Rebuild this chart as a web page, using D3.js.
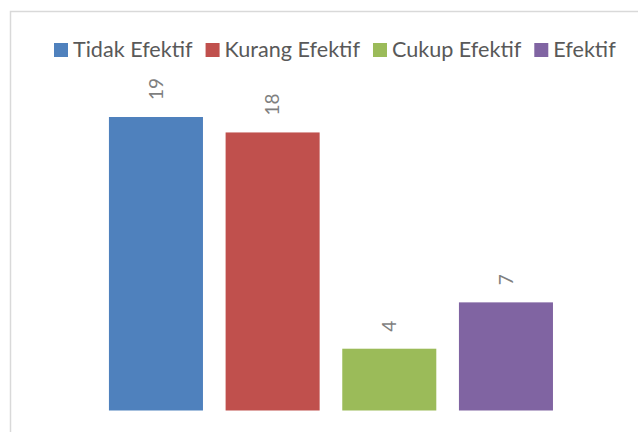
<!DOCTYPE html>
<html>
<head>
<meta charset="utf-8">
<script src="https://cdn.jsdelivr.net/npm/d3@7"></script>
<style>
  html, body { margin: 0; padding: 0; background: #fff; }
  svg { display: block; }
</style>
</head>
<body>
<div id="stage"></div>
<script>
const categories = ['Tidak Efektif', 'Kurang Efektif', 'Cukup Efektif', 'Efektif'];
const values = [19, 18, 4, 7];
const colors = ['#4f81bd', '#c0504d', '#9bbb59', '#8064a2'];

const width = 638;
const height = 432;
const font = 'Lato, "Noto Sans", sans-serif';

const svg = d3.select('#stage')
    .append('svg')
    .attr('width', width)
    .attr('height', height);

// chart frame (only left and top edges fall inside the picture)
svg.append('rect')
    .attr('x', 10.5)
    .attr('y', 11.5)
    .attr('width', 700)
    .attr('height', 500)
    .attr('fill', 'none')
    .attr('stroke', '#d9d9d9')
    .attr('stroke-width', 1.5);

const x = d3.scaleBand()
    .domain(categories)
    .range([86.3, 575.6])
    .paddingInner(0.194)
    .paddingOuter(0.194);

const y = d3.scaleLinear()
    .domain([0, 19])
    .range([410.5, 117]);

const data = categories.map((c, i) => ({cat: c, value: values[i], color: colors[i]}));

svg.append('g')
    .selectAll('rect')
    .data(data)
    .join('rect')
    .attr('x', d => x(d.cat))
    .attr('y', d => y(d.value))
    .attr('width', x.bandwidth())
    .attr('height', d => y(0) - y(d.value))
    .attr('fill', d => d.color);

// rotated value labels
svg.append('g')
    .selectAll('text')
    .data(data)
    .join('text')
    .attr('transform', d => `translate(${x(d.cat) + x.bandwidth() / 2},${y(d.value) - 17}) rotate(-90)`)
    .attr('dy', '0.36em')
    .attr('text-anchor', 'start')
    .attr('font-family', font)
    .attr('font-size', 19)
    .attr('fill', '#7f7f7f')
    .text(d => d.value);

// legend: size the font so the row spans the same width as the original
const legend = svg.append('g');
const gap = 13;
const items = data.map(d => {
    const g = legend.append('g');
    g.append('rect')
        .attr('x', 0)
        .attr('y', 43)
        .attr('width', 14)
        .attr('height', 14)
        .attr('fill', d.color);
    const t = g.append('text')
        .attr('x', 19)
        .attr('y', 57)
        .attr('font-family', font)
        .attr('font-size', 20)
        .attr('fill', '#595959')
        .text(d.cat);
    return {g, t};
});
const textTotal = d3.sum(items, it => it.t.node().getComputedTextLength());
const fs = 20 * 447 / textTotal;
let lx = 54;
items.forEach(it => {
    it.t.attr('font-size', fs);
    it.g.attr('transform', `translate(${lx},0)`);
    lx += 19 + it.t.node().getComputedTextLength() + gap;
});
</script>
</body>
</html>
